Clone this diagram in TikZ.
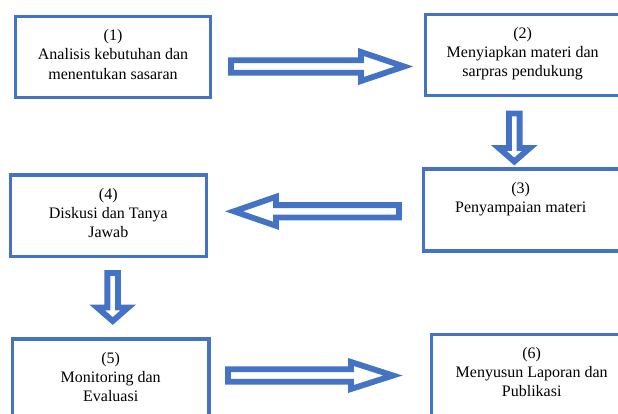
\documentclass[tikz,border=0pt]{standalone}
\usepackage{fontspec}
\setmainfont{Liberation Serif}
\usetikzlibrary{calc}
\definecolor{stepblue}{HTML}{4472C4}

\begin{document}
\begin{tikzpicture}[x=0.75pt, y=-0.75pt,
  stepbox/.style={draw=stepblue, line width=2.6pt, inner sep=0pt},
  steptext/.style={anchor=base, align=center, inner sep=0pt, font=\fontsize{12}{14.25}\selectfont},
  blockarrow/.style={draw=stepblue, line width=4.4pt, line join=miter, fill=white}]
  \useasboundingbox (0,0) rectangle (618,414);
  \clip (0,0) rectangle (618,414);

  % boxes
  \node[stepbox, minimum width=145.9pt, minimum height=60.4pt] (b1) at (113,57) {};
  \node[stepbox, minimum width=148.5pt, minimum height=60.8pt] (b2) at (524.7,55) {};
  \node[stepbox, minimum width=149pt, minimum height=61.5pt] (b3) at (523,209.8) {};
  \node[stepbox, minimum width=147pt, minimum height=61.1pt] (b4) at (108.3,215.5) {};
  \node[stepbox, minimum width=147.4pt, minimum height=61.5pt] (b5) at (110.7,380) {};
  \node[stepbox, minimum width=150pt, minimum height=61.5pt] (b6) at (531.7,375.5) {};

  % texts (base = last line)
  \node[steptext] (t1) at ($(b1.north)+(0,64)$) {(1)\\Analisis kebutuhan dan\\menentukan sasaran};
  \node[steptext] (t2) at ($(b2.north)+(-2,64)$) {(2)\\Menyiapkan materi dan\\sarpras pendukung};
  \node[steptext] (t3) at ($(b3.north)+(-2.3,45)$) {(3)\\Penyampaian materi};
  \node[steptext] (t4) at ($(b4.north)+(0,64)$) {(4)\\Diskusi dan Tanya\\Jawab};
  \node[steptext] (t5) at ($(b5.north)+(0,64)$) {(5)\\Monitoring dan\\Evaluasi};
  \node[steptext] (t6) at ($(b6.north)+(0,64)$) {(6)\\Menyusun Laporan dan\\Publikasi};

  % arrow ends
  \coordinate (a12s) at (231,66.5);
  \coordinate (a12e) at (404,66.5);
  \coordinate (a23s) at (514.3,113.5);
  \coordinate (a23e) at (514.3,161.5);
  \coordinate (a34s) at (399,211.3);
  \coordinate (a34e) at (234,211.3);
  \coordinate (a45s) at (112.7,273);
  \coordinate (a45e) at (112.7,321);
  \coordinate (a56s) at (228,375.5);
  \coordinate (a56e) at (393,375.5);

  % block arrows
  \draw[blockarrow] ($(a12s)+(0,-6.2)$) -- ($(a12e)+(-43,-6.2)$) -- ($(a12e)+(-43,-14.5)$) -- (a12e)
    -- ($(a12e)+(-43,14.5)$) -- ($(a12e)+(-43,6.2)$) -- ($(a12s)+(0,6.2)$) -- cycle;
  \draw[blockarrow] ($(a23s)+(-5.3,0)$) -- ($(a23e)+(-5.3,-13.5)$) -- ($(a23e)+(-15.5,-13.5)$) -- (a23e)
    -- ($(a23e)+(15.5,-13.5)$) -- ($(a23e)+(5.3,-13.5)$) -- ($(a23s)+(5.3,0)$) -- cycle;
  \draw[blockarrow] ($(a34s)+(0,-6.2)$) -- ($(a34e)+(42,-6.2)$) -- ($(a34e)+(42,-14.5)$) -- (a34e)
    -- ($(a34e)+(42,14.5)$) -- ($(a34e)+(42,6.2)$) -- ($(a34s)+(0,6.2)$) -- cycle;
  \draw[blockarrow] ($(a45s)+(-5.3,0)$) -- ($(a45e)+(-5.3,-13.5)$) -- ($(a45e)+(-15.5,-13.5)$) -- (a45e)
    -- ($(a45e)+(15.5,-13.5)$) -- ($(a45e)+(5.3,-13.5)$) -- ($(a45s)+(5.3,0)$) -- cycle;
  \draw[blockarrow] ($(a56s)+(0,-6.2)$) -- ($(a56e)+(-42,-6.2)$) -- ($(a56e)+(-42,-13.5)$) -- (a56e)
    -- ($(a56e)+(-42,13.5)$) -- ($(a56e)+(-42,6.2)$) -- ($(a56s)+(0,6.2)$) -- cycle;
\end{tikzpicture}
\end{document}
